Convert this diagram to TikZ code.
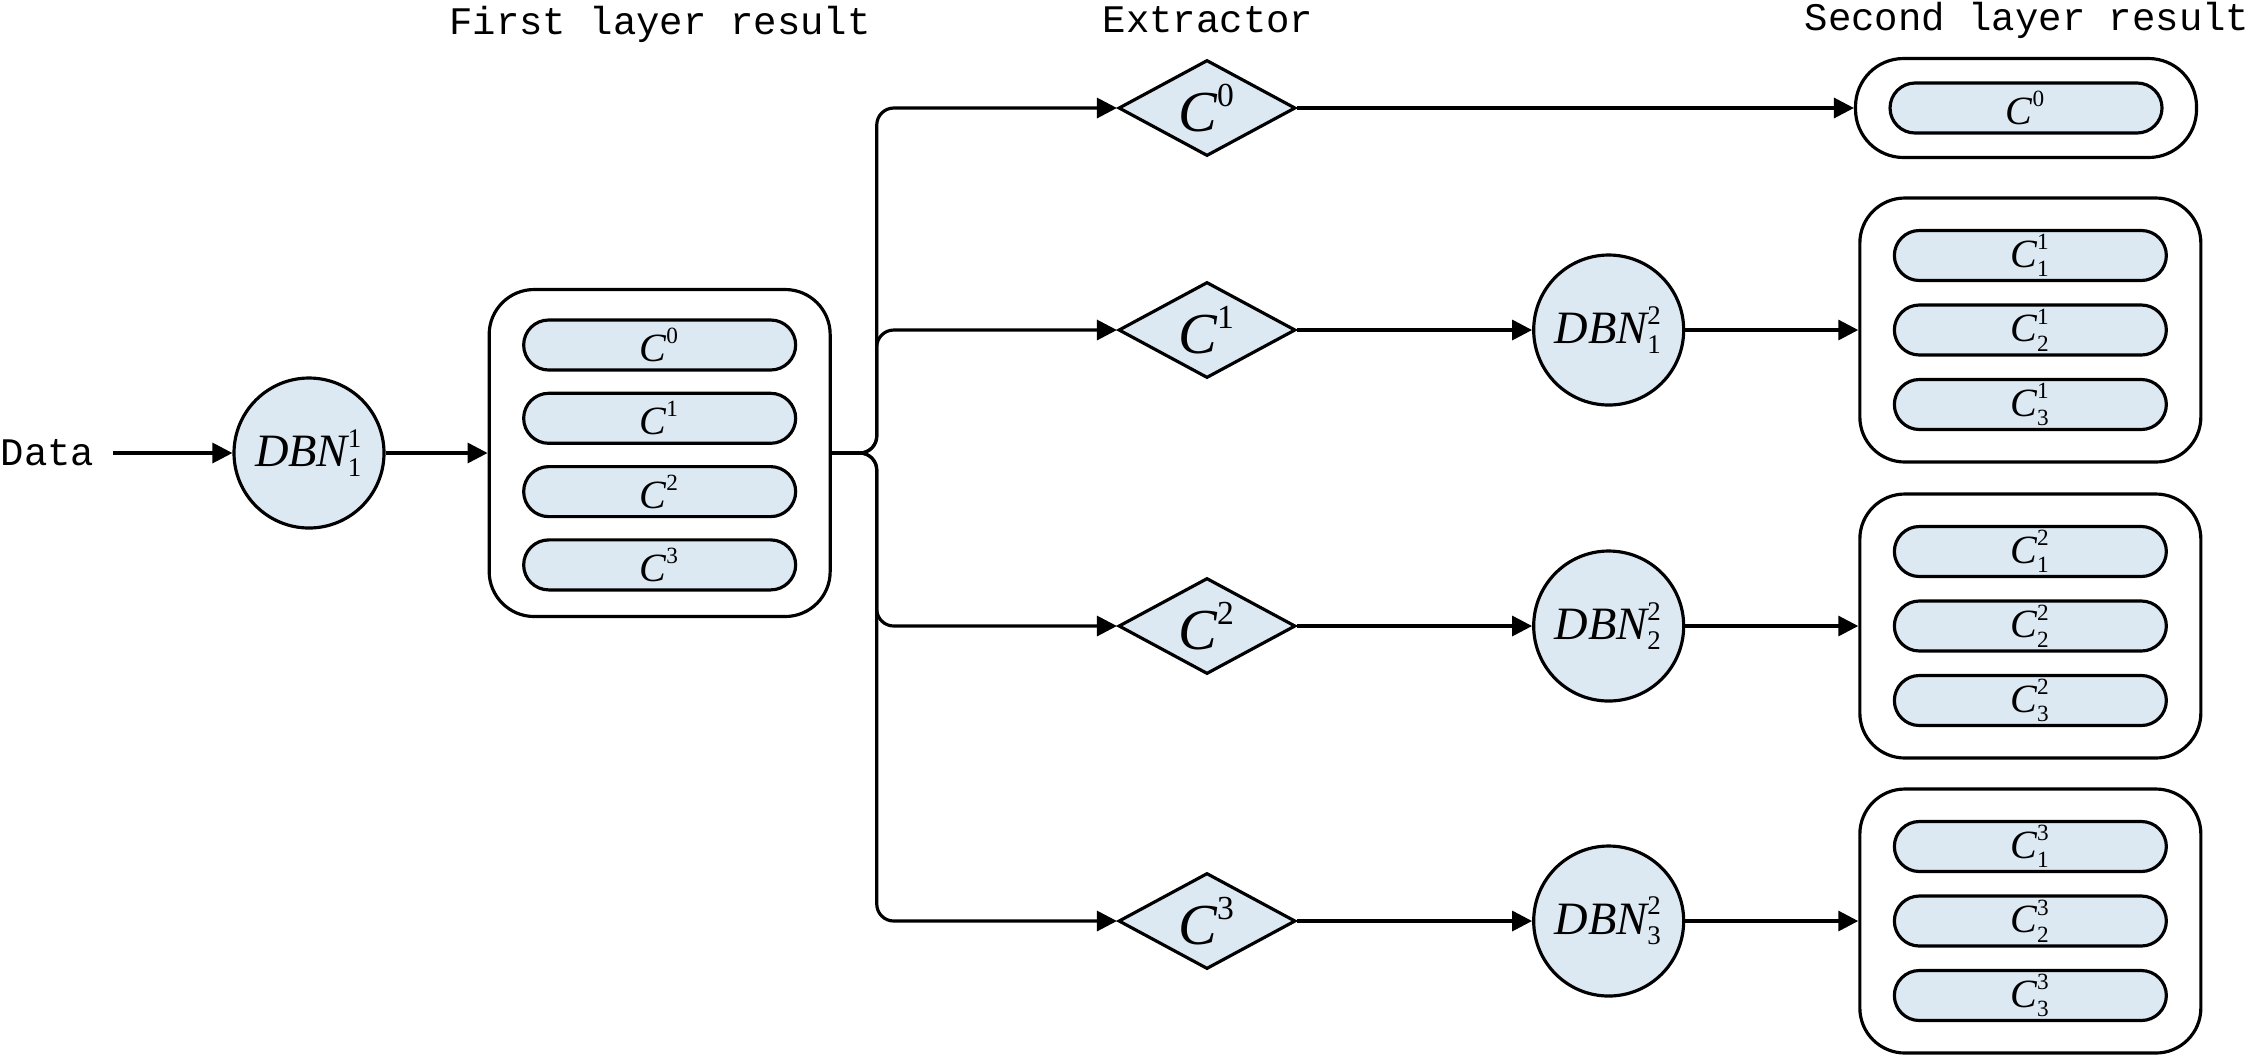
\documentclass[tikz,border=0pt]{standalone}
\usepackage{fontspec}
\usepackage{amsmath}
\setmainfont{Liberation Serif}
\newfontfamily\ttlfont{Liberation Mono}
\usetikzlibrary{positioning,arrows.meta,shapes.geometric,shapes.misc,calc}
\definecolor{nodeFill}{HTML}{DCE8F2}
\renewcommand{\defaultscriptratio}{.58}
\newcommand{\itx}[1]{\text{\itshape #1}}
\newcommand{\upx}[1]{\text{\upshape #1}}

\begin{document}
\begin{tikzpicture}[
  ttl/.style ={font=\fontsize{11.1}{13}\selectfont\ttlfont, inner sep=0pt},
  dbn/.style ={circle, draw, fill=nodeFill, line width=0.9pt, minimum size=15mm, inner sep=0pt, font=\fontsize{13.2}{15}\selectfont},
  ext/.style ={diamond, draw, fill=nodeFill, line width=0.9pt, minimum width=17.7mm, minimum height=9.6mm, aspect=1.8, inner sep=0pt, font=\fontsize{16.5}{18}\selectfont},
  grp/.style ={draw, rounded corners=4.5mm, line width=0.9pt, minimum width=34.1mm, inner sep=0pt},
  pill/.style={rounded rectangle, draw, fill=nodeFill, line width=0.9pt, minimum width=27.2mm, minimum height=5mm, inner sep=0pt, font=\fontsize{11.4}{13}\selectfont},
  arr/.style ={-{Triangle[length=2mm,width=2mm]}, line width=0.9pt},
]
\useasboundingbox (0,0) rectangle (22.5,-10.56);

% ==================== Titles ====================
\node[ttl] (t1) at (6.6,-0.24)  {First layer result};
\node[ttl] (t2) at (12.08,-0.2) {Extractor};
\node[ttl] (t3) at (20.27,-0.2) {Second layer result};

% ==================== Input + first layer ====================
\node[ttl, anchor=west] (data) at (0,-4.53) {Data};
\node[dbn] (dbn1) at (3.09,-4.53) {$\itx{DBN}^{\upx{1}}_{\upx{1}}$};
\node[grp, minimum height=32.7mm, right=10.2mm of dbn1] (fl) {};
\foreach \i in {0,...,3}
  \node[pill] (fl\i) at ($(fl.center)+(0,{1.08-\i*0.733})$) {$\itx{C}^{\upx{\i}}$};

\draw[arr, shorten <=1.8mm] (data) -- (dbn1);
\draw[arr] (dbn1) -- (fl);

% split point of the trunk
\coordinate[right=4.5mm of fl] (split);

% ==================== Row 0 ====================
\node[ext] (d0) at (12.07,-1.08) {$\itx{C}^{\upx{0}}$};
\node[grp, minimum height=9.9mm, rounded corners=4.8mm] (sl0) at (20.26,-1.08) {};
\node[pill] (sl01) at (sl0.center) {$\itx{C}^{\upx{0}}$};
\draw[arr, rounded corners=1.7mm] (fl.east) -- (split) |- (d0.west);
\draw[arr] (d0) -- (sl0);

% ==================== Rows 1-3 ====================
\foreach \r/\y in {1/3.30, 2/6.26, 3/9.21} {
  \node[ext] (d\r) at (12.07,-\y) {$\itx{C}^{\upx{\r}}$};
  \node[dbn, right=23.5mm of d\r] (dbn2\r) {$\itx{DBN}^{\upx{2}}_{\upx{\r}}$};
  \node[grp, minimum height=26.4mm, right=17.3mm of dbn2\r] (sl\r) {};
  \foreach \j in {1,2,3}
    \node[pill] (sl\r\j) at ($(sl\r.center)+(0,{1.49-\j*0.745})$) {$\itx{C}^{\upx{\r}}_{\upx{\j}}$};
  \draw[arr, rounded corners=1.7mm] (fl.east) -- (split) |- (d\r.west);
  \draw[arr] (d\r) -- (dbn2\r);
  \draw[arr] (dbn2\r) -- (sl\r);
}

\end{tikzpicture}
\end{document}
